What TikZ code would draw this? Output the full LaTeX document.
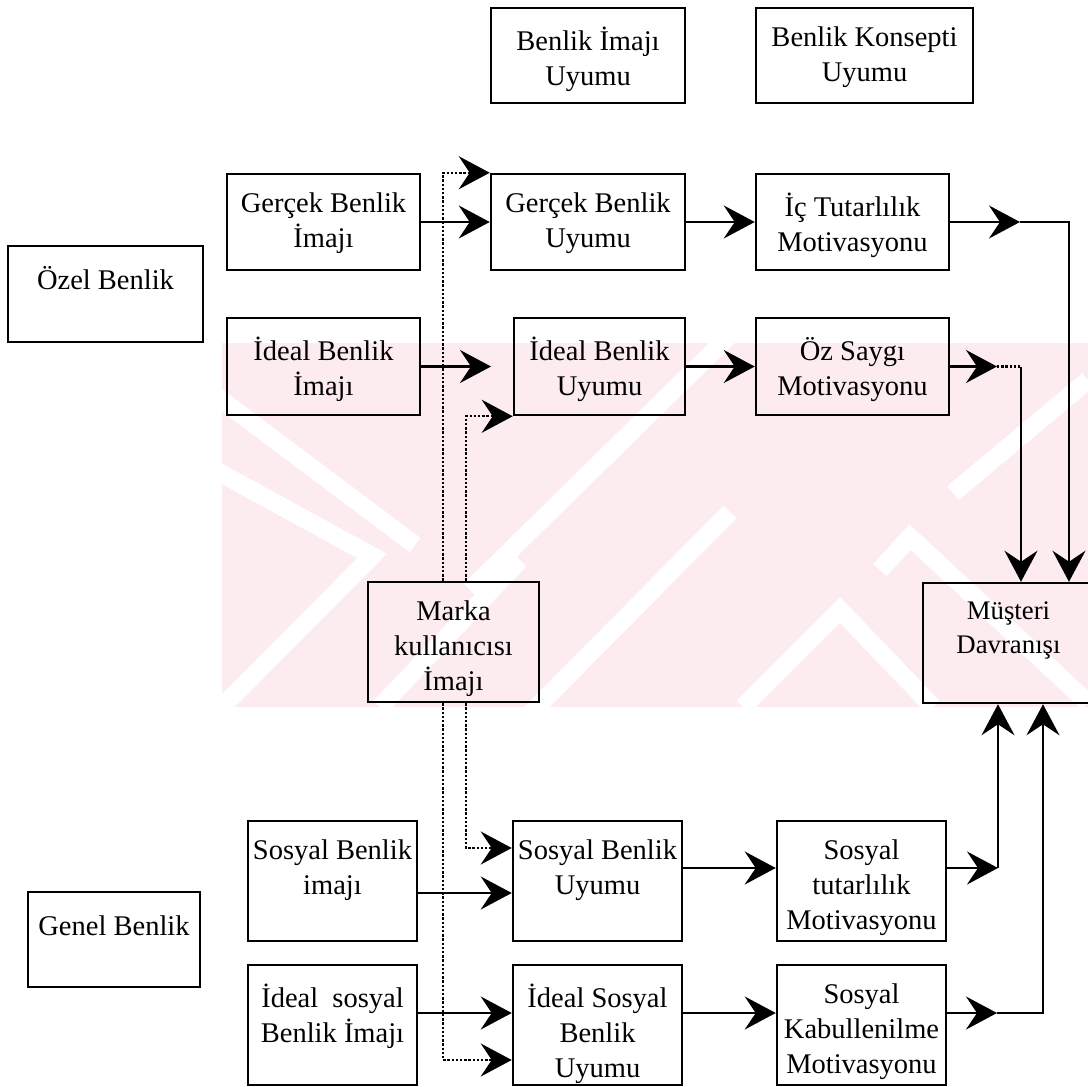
\documentclass[tikz,border=0pt]{standalone}
\usepackage{fontspec}
\setmainfont{Liberation Serif}
\usetikzlibrary{arrows.meta}
\definecolor{wmpink}{RGB}{253,236,239}
\tikzset{
  box/.style={draw, line width=1.25pt, rectangle, inner sep=0pt},
  txt/.style={align=center, inner sep=0pt, font=\fontsize{14.25}{17.5}\selectfont,
              execute at begin node=\strut},
  smalltxt/.style={txt, font=\fontsize{13.4}{17}\selectfont},
  link/.style={line width=1.05pt},
  tip/.tip={Stealth[length=15.5pt,width=16.5pt,inset=5.5pt]},
  arr/.style={link, -tip},
  dots/.style={line width=1.1pt, dash pattern=on 1.2pt off 0.9pt},
  dotarr/.style={dots, -tip},
  stripe/.style={white, line width=9pt},
}
% box: name, left, top, right, bottom (pixel grid), text style, text
\newcommand\mybox[7]{%
  \node[box, minimum width={(#4-#2)*0.5pt}, minimum height={(#5-#3)*0.5pt}]
       (#1) at ({(#2+#4)/2},{(#3+#5)/2}) {};
  \node[#6, anchor=north] (#1-t) at ([yshift=-10pt]#1.north) {#7};
}
\begin{document}
\begin{tikzpicture}[x=0.5pt,y=-0.5pt]
\useasboundingbox (0,0) rectangle (1088,1087);

% faint background mark
\begin{scope}
  \clip (222,343) rectangle (1088,707);
  \fill[wmpink] (222,343) rectangle (1088,707);
  \draw[stripe] (215,395) -- (415,545);
  \draw[stripe] (215,470) -- (372,556) -- (222,707);
  \draw[stripe] (380,707) -- (520,560);
  \draw[stripe] (530,714) -- (730,512);
  \draw[stripe] (470,590) -- (735,330);
  \draw[stripe] (953,493) -- (1088,380);
  \draw[stripe] (743,707) -- (840,610) -- (933,707);
  \draw[stripe] (880,570) -- (910,537) -- (1088,703);
\end{scope}

% boxes
\mybox{bil}{491}{8}{685}{103}{txt}{Benlik İmajı\\Uyumu}
\mybox{bku}{756}{8}{973}{103}{txt}{Benlik Konsepti\\Uyumu}
\mybox{ozb}{8}{246}{203}{342}{txt}{Özel Benlik}
\mybox{gbi}{227}{174}{420}{270}{txt}{Gerçek Benlik\\İmajı}
\mybox{gbu}{491}{174}{685}{270}{txt}{Gerçek Benlik\\Uyumu}
\mybox{ict}{756}{174}{949}{270}{txt}{İç Tutarlılık\\Motivasyonu}
\mybox{ibi}{227}{318}{420}{415}{txt}{İdeal Benlik\\İmajı}
\mybox{ibu}{514}{318}{685}{415}{txt}{İdeal Benlik\\Uyumu}
\mybox{osm}{756}{318}{949}{415}{txt}{Öz Saygı\\Motivasyonu}
\mybox{mk}{368}{582}{539}{702}{txt}{Marka\\kullanıcısı\\İmajı}
\mybox{md}{923}{583}{1094}{703}{smalltxt}{Müşteri\\Davranışı}
\mybox{sbi}{248}{821}{417}{941}{txt}{Sosyal Benlik\\imajı}
\mybox{gnb}{28}{892}{200}{987}{txt}{Genel Benlik}
\mybox{sbu}{513}{821}{682}{941}{txt}{Sosyal Benlik\\Uyumu}
\mybox{stm}{777}{821}{946}{941}{txt}{Sosyal\\tutarlılık\\Motivasyonu}
\mybox{isi}{248}{965}{417}{1085}{txt}{İdeal\enspace sosyal\\Benlik İmajı}
\mybox{isu}{513}{965}{682}{1085}{txt}{İdeal Sosyal\\Benlik\\Uyumu}
\mybox{skm}{777}{965}{946}{1085}{txt}{Sosyal\\Kabullenilme\\Motivasyonu}

% helper points for bends and free arrow ends
\coordinate (dx1) at (443,0);
\coordinate (dx2) at (466,0);
\coordinate (ibtip) at (491,366.5);
\coordinate (ictip) at (1020,222);
\coordinate (rx1) at (1069,0);
\coordinate (ostip) at (997,366.5);
\coordinate (osc) at (1021,366.5);
\coordinate (sttip) at (998,868);
\coordinate (sktip) at (997,1013);
\coordinate (skc) at (1043,1013);

% private self rows
\draw[arr] (gbi) -- (gbu);
\draw[arr] (gbu) -- (ict);
\draw[arr] (ibi) -- (ibtip);
\draw[arr] (ibu) -- (osm);
\draw[arr] (ict) -- (ictip);
\draw[arr] (ictip) -| (md.north -| rx1);
\draw[arr] (osm) -- (ostip);
\draw[dots] (ostip) -- (osc);
\draw[arr] (osc) -- (md.north -| osc);

% social self rows
\draw[arr] ([yshift=-6pt]sbi.east) -- ([yshift=-6pt]sbu.west);
\draw[arr] ([yshift=6.5pt]sbu.east) -- ([yshift=6.5pt]stm.west);
\draw[arr] ([yshift=6.5pt]stm.east) -- (sttip);
\draw[arr] (sttip) -- (md.south -| sttip);
\draw[arr] ([yshift=6pt]isi.east) -- ([yshift=6pt]isu.west);
\draw[arr] ([yshift=6pt]isu.east) -- ([yshift=6pt]skm.west);
\draw[arr] ([yshift=6pt]skm.east) -- (sktip);
\draw[arr] (sktip) -| (md.south -| skc);

% brand user image links
\draw[dotarr] (mk.north -| dx1) |- (gbu.north west);
\draw[dotarr] (mk.north -| dx2) |- (ibu.south west);
\draw[dotarr] (mk.south -| dx1) |- ([yshift=-17.5pt]isu.west);
\draw[dotarr] (mk.south -| dx2) |- ([yshift=16.5pt]sbu.west);
\end{tikzpicture}
\end{document}
